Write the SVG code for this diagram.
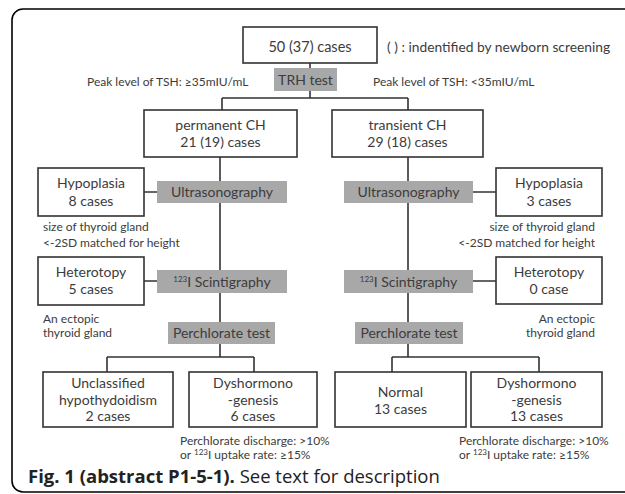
<svg xmlns="http://www.w3.org/2000/svg" width="625" height="494" viewBox="0 0 625 494">
<style>
text{font-family:Lato,"Open Sans","Liberation Sans",sans-serif;fill:#3c3c3c}
.box{fill:#fff;stroke:#333;stroke-width:1.6}
.test{fill:#a8a8a8;stroke:none}
.c{text-anchor:middle}
.e{text-anchor:end}
.b{font-size:14px}
.t{font-size:14px}
.s{font-size:12px}
.p{font-size:12px}
.sup{font-size:8px}
#connectors path{fill:none;stroke:#333;stroke-width:1.6}
.cap{font-family:"Open Sans","Noto Sans",sans-serif;font-size:18.5px;fill:#222}
</style>
<rect x="12" y="9" width="640" height="483" rx="11" fill="#fff" stroke="#000" stroke-width="1.6"/>
<g id="connectors">
<path d="M310 63V68M310 91V98M222 98H408M222 98V110M408 98V110"/>
<path d="M220 157V181M220 203V270M220 293V322M220 344V357M107 357H254M107 357V372M254 357V372"/>
<path d="M144 192H157M144 281H157"/>
<path d="M408 157V181M408 203V270M408 293V322M408 344V357M392 357H539M392 357V372M539 357V372"/>
<path d="M473 192H496M473 281H496"/>
</g>
<g id="top">
<rect class="box" x="243" y="27" width="134" height="36"/>
<text class="c b" x="310" y="52" style="font-size:14.5px">50 (37) cases</text>
</g>
<text x="387" y="52" style="font-size:13.8px">( ) : indentified by newborn screening</text>
<text class="p" x="87" y="86">Peak level of TSH: ≥35mIU/mL</text>
<text class="p" x="373" y="86">Peak level of TSH: &lt;35mIU/mL</text>
<g id="trh">
<rect class="test" x="274" y="68" width="63" height="23"/>
<text class="c t" x="305.5" y="85">TRH test</text>
</g>
<g id="permanent">
<rect class="box" x="144" y="110" width="153" height="47"/>
<text class="c b" x="220.5" y="130">permanent CH</text>
<text class="c b" x="220.5" y="147">21 (19) cases</text>
</g>
<g id="transient">
<rect class="box" x="332" y="110" width="151" height="47"/>
<text class="c b" x="407.5" y="130">transient CH</text>
<text class="c b" x="407.5" y="147">29 (18) cases</text>
</g>
<g id="hypoL">
<rect class="box" x="38" y="168" width="106" height="48"/>
<text class="c b" x="91" y="188">Hypoplasia</text>
<text class="c b" x="91" y="206">8 cases</text>
</g>
<g id="usL">
<rect class="test" x="157" y="181" width="130" height="22"/>
<text class="c t" x="222" y="197">Ultrasonography</text>
</g>
<text class="s" x="43" y="231">size of thyroid gland</text>
<text class="s" x="43" y="247">&lt;-2SD matched for height</text>
<g id="hetL">
<rect class="box" x="38" y="257" width="106" height="48"/>
<text class="c b" x="91" y="277">Heterotopy</text>
<text class="c b" x="91" y="294">5 cases</text>
</g>
<g id="scL">
<rect class="test" x="157" y="270" width="130" height="23"/>
<text class="c t" x="222" y="287"><tspan class="sup" dy="-5">123</tspan><tspan dy="5">I Scintigraphy</tspan></text>
</g>
<text class="s" x="43" y="323">An ectopic</text>
<text class="s" x="43" y="337">thyroid gland</text>
<g id="pcL">
<rect class="test" x="168" y="322" width="107" height="22"/>
<text class="c t" x="221.5" y="338">Perchlorate test</text>
</g>
<g id="unclass">
<rect class="box" x="43" y="372" width="130" height="55"/>
<text class="c b" x="108" y="388">Unclassified</text>
<text class="c b" x="108" y="405">hypothydoidism</text>
<text class="c b" x="108" y="421">2 cases</text>
</g>
<g id="dysL">
<rect class="box" x="189" y="372" width="128" height="55"/>
<text class="c b" x="253" y="388">Dyshormono</text>
<text class="c b" x="253" y="405">-genesis</text>
<text class="c b" x="253" y="421">6 cases</text>
</g>
<text class="p" x="180" y="445">Perchlorate discharge: &gt;10%</text>
<text class="p" x="180" y="459">or <tspan class="sup" dy="-4">123</tspan><tspan dy="4">I uptake rate: ≥15%</tspan></text>
<g id="usR">
<rect class="test" x="344" y="181" width="129" height="22"/>
<text class="c t" x="408.5" y="197">Ultrasonography</text>
</g>
<g id="hypoR">
<rect class="box" x="496" y="168" width="106" height="48"/>
<text class="c b" x="549" y="188">Hypoplasia</text>
<text class="c b" x="549" y="206">3 cases</text>
</g>
<text class="s e" x="595" y="231">size of thyroid gland</text>
<text class="s e" x="595" y="247">&lt;-2SD matched for height</text>
<g id="scR">
<rect class="test" x="344" y="270" width="129" height="23"/>
<text class="c t" x="408.5" y="287"><tspan class="sup" dy="-5">123</tspan><tspan dy="5">I Scintigraphy</tspan></text>
</g>
<g id="hetR">
<rect class="box" x="496" y="257" width="106" height="47"/>
<text class="c b" x="549" y="277">Heterotopy</text>
<text class="c b" x="549" y="294">0 case</text>
</g>
<text class="s e" x="595" y="323">An ectopic</text>
<text class="s e" x="595" y="337">thyroid gland</text>
<g id="pcR">
<rect class="test" x="355" y="322" width="108" height="22"/>
<text class="c t" x="409" y="338">Perchlorate test</text>
</g>
<g id="normal">
<rect class="box" x="335" y="372" width="131" height="55"/>
<text class="c b" x="400.5" y="397">Normal</text>
<text class="c b" x="400.5" y="414">13 cases</text>
</g>
<g id="dysR">
<rect class="box" x="471" y="372" width="131" height="55"/>
<text class="c b" x="536.5" y="388">Dyshormono</text>
<text class="c b" x="536.5" y="405">-genesis</text>
<text class="c b" x="536.5" y="421">13 cases</text>
</g>
<text class="p" x="459" y="445">Perchlorate discharge: &gt;10%</text>
<text class="p" x="459" y="459">or <tspan class="sup" dy="-4">123</tspan><tspan dy="4">I uptake rate: ≥15%</tspan></text>
<text class="cap" x="28" y="483"><tspan font-weight="bold">Fig. 1 (abstract P1-5-1).</tspan> See text for description</text>
</svg>
